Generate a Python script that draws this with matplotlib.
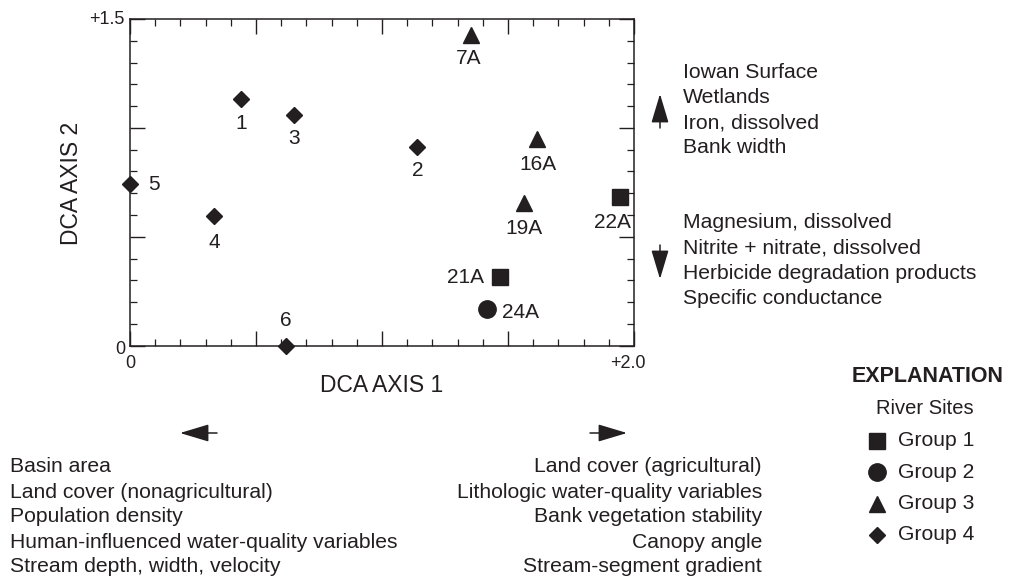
import matplotlib
matplotlib.use("Agg")
import matplotlib.pyplot as plt
from matplotlib.lines import Line2D
from matplotlib.patches import FancyArrowPatch
from matplotlib.ticker import MultipleLocator

plt.rcParams['font.family'] = ['Liberation Sans', 'DejaVu Sans']

# ---- data ----
sites = ["1", "3", "5", "4", "6", "2", "7A", "16A", "19A", "22A", "21A", "24A"]
axis1 = [0.44, 0.65, 0.0, 0.335, 0.62, 1.14, 1.355, 1.617, 1.564, 1.946, 1.469, 1.416]
axis2 = [1.133, 1.059, 0.742, 0.595, 0.0, 0.914, 1.426, 0.948, 0.654, 0.681, 0.314, 0.167]
groups = [4, 4, 4, 4, 4, 4, 3, 3, 3, 1, 1, 2]
# label placement: (dx, dy) in points, ha
label_pos = {"1": (0, -18, 'center'), "3": (0, -17, 'center'), "5": (13, 0, 'left'),
             "4": (0, -19, 'center'), "6": (0, 18, 'center'), "2": (0, -17, 'center'),
             "7A": (-2, -17, 'center'), "16A": (0, -18, 'center'), "19A": (0, -18, 'center'),
             "22A": (-6, -18, 'center'), "21A": (-12, 0, 'right'), "24A": (11, -2, 'left')}

group_names = ["Group 1", "Group 2", "Group 3", "Group 4"]
group_markers = {1: ('s', 12), 2: ('o', 12.5), 3: ('^', 12), 4: ('D', 8.5)}

up_vars = ["Iowan Surface", "Wetlands", "Iron, dissolved", "Bank width"]
down_vars = ["Magnesium, dissolved", "Nitrite + nitrate, dissolved",
             "Herbicide degradation products", "Specific conductance"]
left_vars = ["Basin area", "Land cover (nonagricultural)", "Population density",
             "Human-influenced water-quality variables", "Stream depth, width, velocity"]
right_vars = ["Land cover (agricultural)", "Lithologic water-quality variables",
              "Bank vegetation stability", "Canopy angle", "Stream-segment gradient"]

C = '#231f20'
W, H = 1016, 578
TXT = 15.2
fig = plt.figure(figsize=(W / 100, H / 100), dpi=100)

def fx(x):
    return x / W

def fy(y):
    return 1 - y / H

ax = fig.add_axes([fx(130), fy(345.7), (634 - 130) / W, 326.7 / H])
ax.set_xlim(0, 2.0)
ax.set_ylim(0, 1.5)
for s in ax.spines.values():
    s.set_linewidth(1.1)
    s.set_color(C)
ax.xaxis.set_major_locator(MultipleLocator(0.5))
ax.xaxis.set_minor_locator(MultipleLocator(0.1))
ax.yaxis.set_major_locator(MultipleLocator(0.5))
ax.yaxis.set_minor_locator(MultipleLocator(0.1))
ax.tick_params(which='both', direction='in', top=True, right=True, color=C,
               labelbottom=False, labelleft=False)
ax.tick_params(which='major', length=11, width=1.0)
ax.tick_params(which='minor', length=5, width=0.9)

for name, x, y, g in zip(sites, axis1, axis2, groups):
    m, ms = group_markers[g]
    ax.plot([x], [y], linestyle='none', marker=m, markersize=ms, color=C, clip_on=False, zorder=5)
    dx, dy, ha = label_pos[name]
    ax.annotate(name, (x, y), xytext=(dx, dy), textcoords='offset points',
                ha=ha, va='center', fontsize=15, color=C)

# axis end labels
fig.text(fx(124), fy(19), "+1.5", ha='right', va='center', fontsize=13, color=C)
fig.text(fx(125), fy(349), "0", ha='right', va='center', fontsize=13, color=C)
fig.text(fx(130), fy(364), "0", ha='center', va='center', fontsize=13, color=C)
fig.text(fx(628), fy(364), "+2.0", ha='center', va='center', fontsize=13, color=C)

fig.text(fx(382), fy(385), "DCA AXIS 1", ha='center', va='center', fontsize=16.5, color=C)
fig.text(fx(72), fy(183), "DCA AXIS 2", ha='center', va='center', rotation=90, fontsize=16.5, color=C)

# right side variable lists
for i, t in enumerate(up_vars):
    fig.text(fx(683), fy(72 + 25.3 * i), t, ha='left', va='center', fontsize=TXT, color=C)
for i, t in enumerate(down_vars):
    fig.text(fx(683), fy(223 + 25.3 * i), t, ha='left', va='center', fontsize=TXT, color=C)

# bottom variable lists
for i, t in enumerate(left_vars):
    fig.text(fx(10), fy(467 + 25 * i), t, ha='left', va='center', fontsize=TXT, color=C)
for i, t in enumerate(right_vars):
    fig.text(fx(762), fy(467 + 25 * i), t, ha='right', va='center', fontsize=TXT, color=C)

aprops = dict(arrowstyle='-|>,head_length=1.0,head_width=0.3', color=C, lw=1.1,
              mutation_scale=18, shrinkA=0, shrinkB=0)
for (x0, y0), (x1, y1) in [((660, 128), (660, 94)), ((660, 245), (660, 279)),
                           ((217, 433), (180, 433)), ((590, 433), (627, 433))]:
    fig.add_artist(FancyArrowPatch((fx(x0), fy(y0)), (fx(x1), fy(y1)),
                                   transform=fig.transFigure, **aprops))

# explanation
fig.text(fx(928), fy(377), "EXPLANATION", ha='center', va='center', fontsize=15.5,
         fontweight='bold', color=C)
fig.text(fx(925), fy(409), "River Sites", ha='center', va='center', fontsize=14.5, color=C)
for i, name in enumerate(group_names):
    g = i + 1
    m, ms = group_markers[g]
    yy = 441 + 31.3 * i
    fig.add_artist(Line2D([fx(877)], [fy(yy)], transform=fig.transFigure, linestyle='none',
                          marker=m, markersize=ms, color=C))
    fig.text(fx(898), fy(yy), name, ha='left', va='center', fontsize=TXT, color=C)

fig.savefig("out.png", dpi=100)
